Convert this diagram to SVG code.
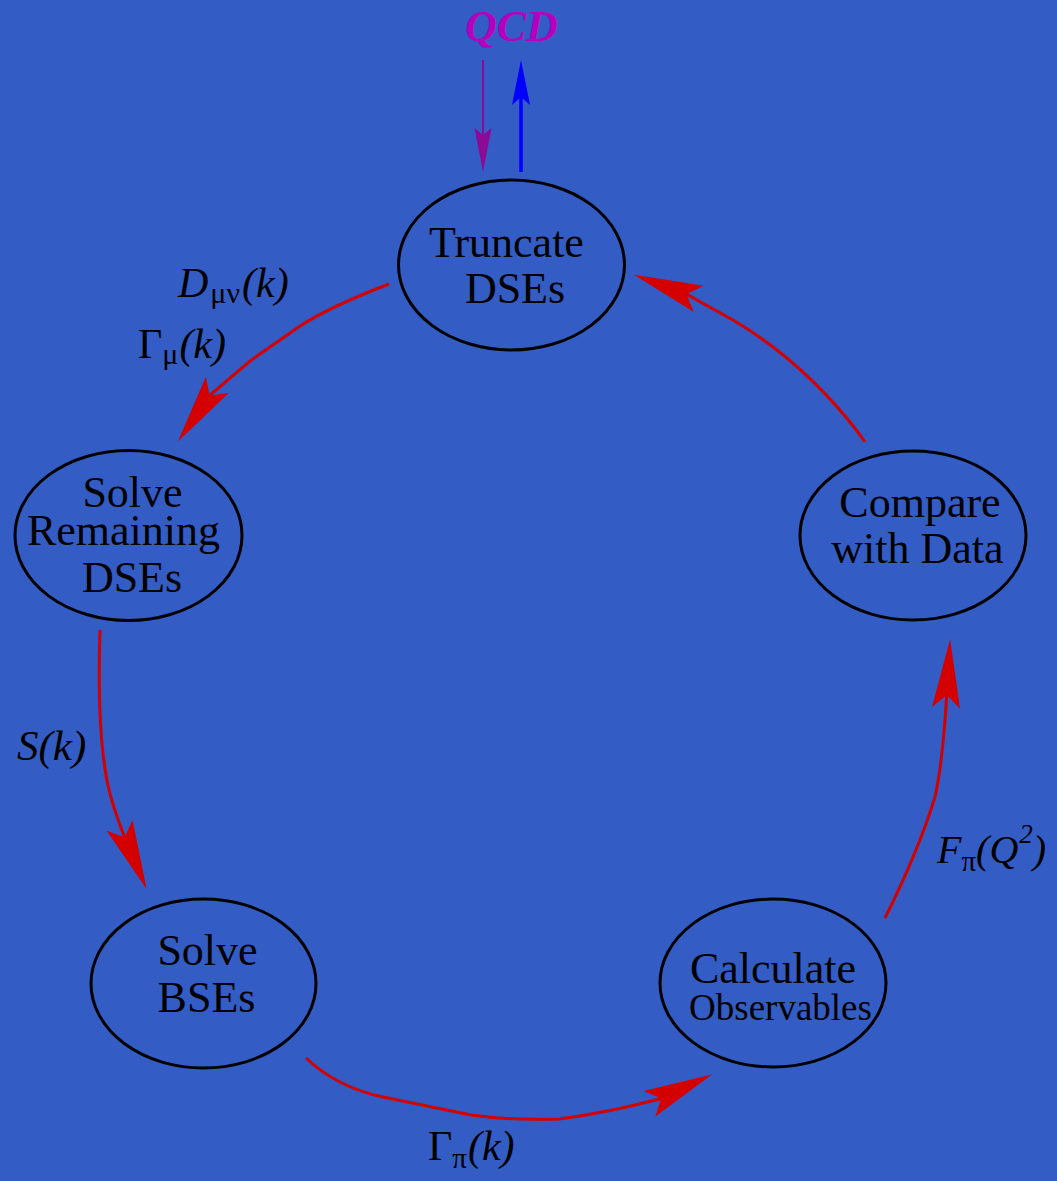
<svg xmlns="http://www.w3.org/2000/svg" width="1057" height="1181" viewBox="0 0 1057 1181">
  <style>
    .node ellipse { fill: none; stroke: #000; stroke-width: 3; }
    .node text { font-family: "Liberation Serif", "Times New Roman", serif; font-size: 44px; fill: #000; text-anchor: middle; }
    .lbl { font-family: "Liberation Serif", "Times New Roman", serif; font-style: italic; fill: #000; }
    .lbl .gk { font-style: normal; }
    .flow { fill: none; stroke: #d40000; stroke-width: 3; marker-end: url(#redHead); }
  </style>
  <defs>
    <marker id="redHead" markerUnits="userSpaceOnUse" markerWidth="80" markerHeight="40" refX="0" refY="0" orient="auto" overflow="visible">
      <path d="M56,0 L-13,-14 L0,0 L-13,14 Z" fill="#d40000"/>
    </marker>
    <marker id="purpleHead" markerUnits="userSpaceOnUse" markerWidth="60" markerHeight="30" refX="0" refY="0" orient="auto" overflow="visible">
      <path d="M37,0 L-7,-8.5 L0,0 L-7,8.5 Z" fill="#8c0a96"/>
    </marker>
    <marker id="blueHead" markerUnits="userSpaceOnUse" markerWidth="60" markerHeight="30" refX="0" refY="0" orient="auto" overflow="visible">
      <path d="M37,0 L-8,-9 L0,0 L-8,9 Z" fill="#0000ff"/>
    </marker>
  </defs>

  <rect width="1057" height="1181" fill="#335cc4"/>

  <text x="465" y="41" font-family="Liberation Serif, Times New Roman, serif" font-size="44" font-weight="bold" font-style="italic" fill="#b400be">QCD</text>

  <g id="connectors">
    <path d="M483,60 L483,135" fill="none" stroke="#8c0a96" stroke-width="2" marker-end="url(#purpleHead)"/>
    <path d="M521,172 L521,97" fill="none" stroke="#0000ff" stroke-width="3.5" marker-end="url(#blueHead)"/>
    <path class="flow" d="M389,284 C355,297 325,310 300,326 L250,361 L210.4,394.8 l-0.57,0.82"/>
    <path class="flow" d="M100,630 C98,690 100,740 106,775 C110,800 118,820 124.3,836.4 l0.39,0.92"/>
    <path class="flow" d="M306,1058 C325,1076 350,1090 383,1097 L471,1115 C500,1119 530,1120 559,1119 C590,1115 625,1108 660.3,1098.7 l0.9,-0.42"/>
    <path class="flow" d="M885,918 Q918,852 935,797 C941,770 944,740 946.7,695.9 l0.06,-1"/>
    <path class="flow" d="M865,442 C845,413 810,375 773,347 C760,337 745,327 733,320 L687.4,294.7 l-0.94,-0.35"/>
  </g>

  <g id="truncate" class="node">
    <ellipse cx="511.5" cy="265" rx="113" ry="85"/>
    <text x="506.5" y="257">Truncate</text>
    <text x="515" y="303">DSEs</text>
  </g>

  <g id="solve-remaining" class="node">
    <ellipse cx="128.5" cy="535.5" rx="113.5" ry="85"/>
    <text x="132.5" y="507">Solve</text>
    <text x="123.5" y="545">Remaining</text>
    <text x="132" y="592">DSEs</text>
  </g>

  <g id="compare" class="node">
    <ellipse cx="913" cy="535.5" rx="113" ry="84.5"/>
    <text x="920" y="517">Compare</text>
    <text x="917.5" y="563">with Data</text>
  </g>

  <g id="solve-bse" class="node">
    <ellipse cx="203.5" cy="983.5" rx="112.5" ry="84.5"/>
    <text x="207.5" y="965">Solve</text>
    <text x="206.5" y="1012">BSEs</text>
  </g>

  <g id="calculate" class="node">
    <ellipse cx="773" cy="983" rx="113" ry="84"/>
    <text x="773" y="983">Calculate</text>
    <text x="780.5" y="1020" style="font-size:37px">Observables</text>
  </g>

  <g id="labels">
    <text class="lbl" x="178" y="297" font-size="42">D<tspan class="gk" font-size="30" dy="6" dx="2">μν</tspan><tspan dy="-6" dx="2">(k)</tspan></text>
    <text class="lbl" x="138" y="358" font-size="42"><tspan class="gk">Γ</tspan><tspan class="gk" font-size="30" dy="6">μ</tspan><tspan dy="-6" dx="1">(k)</tspan></text>
    <text class="lbl" x="17" y="760" font-size="43">S(k)</text>
    <text class="lbl" x="428" y="1160" font-size="42"><tspan class="gk">Γ</tspan><tspan class="gk" font-size="29" dy="8">π</tspan><tspan dy="-8" dx="1">(k)</tspan></text>
    <text class="lbl" x="937" y="863" font-size="40">F<tspan class="gk" font-size="29" dy="8">π</tspan><tspan dy="-8">(Q</tspan><tspan font-size="27" dy="-20" dx="1">2</tspan><tspan dy="20">)</tspan></text>
  </g>
</svg>
